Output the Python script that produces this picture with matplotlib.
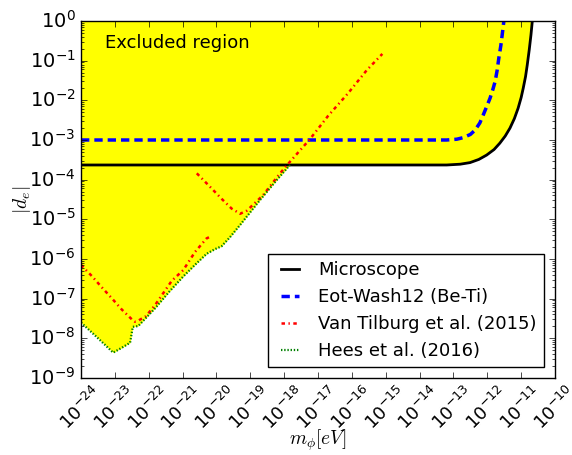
import numpy as np
import matplotlib
matplotlib.use('Agg')
import matplotlib.pyplot as plt

# values, as log10(m_phi [eV]) and log10(|d_e|)
micro_logm = [-24.0, -13.2, -12.8, -12.51, -12.25, -12.02, -11.80, -11.63, -11.47, -11.33,
              -11.20, -11.09, -11.00, -10.94, -10.87, -10.82, -10.76, -10.71, -10.67]
micro_logd = [-3.63, -3.63, -3.61, -3.57, -3.49, -3.38, -3.24, -3.08, -2.90, -2.70,
              -2.46, -2.20, -1.93, -1.70, -1.40, -1.11, -0.72, -0.35, 0.0]

eot_logm = [-24.0, -13.2, -12.9, -12.71, -12.50, -12.36, -12.22, -12.12, -12.01, -11.92,
            -11.84, -11.77, -11.71, -11.66, -11.60, -11.56, -11.51]
eot_logd = [-3.0, -3.0, -2.98, -2.94, -2.86, -2.75, -2.57, -2.37, -2.14, -1.95,
            -1.74, -1.53, -1.25, -0.94, -0.62, -0.35, 0.0]

vt1_logm = [-24.0, -23.68, -23.39, -23.09, -22.80, -22.50, -22.41, -22.30, -22.08, -21.81,
            -21.32, -20.98, -20.63, -20.29, -20.19]
vt1_logd = [-6.15, -6.43, -6.71, -6.99, -7.27, -7.52, -7.58, -7.55, -7.44, -7.16,
            -6.55, -6.28, -5.82, -5.48, -5.44]
vt2_logm = [-20.58, -20.20, -19.85, -19.55, -19.30, -19.10, -18.62, -18.12, -17.83, -17.24,
            -16.70, -16.11, -15.56, -15.10]
vt2_logd = [-3.84, -4.17, -4.48, -4.73, -4.86, -4.78, -4.39, -3.84, -3.55, -2.98,
            -2.39, -1.82, -1.24, -0.83]

hees_logm = [-24.0, -23.52, -23.05, -22.80, -22.55, -22.47, -22.31, -21.81, -21.40, -20.98,
             -20.60, -20.29, -20.04, -19.85, -19.60, -19.30, -18.71, -18.22, -17.83]
hees_logd = [-7.60, -7.98, -8.36, -8.24, -8.11, -7.71, -7.69, -7.24, -6.83, -6.44,
             -6.12, -5.87, -5.75, -5.68, -5.45, -5.14, -4.51, -4.01, -3.63]

xtick_exp = np.arange(-24, -9)
ytick_exp = np.arange(-9, 1)

plt.style.use('classic')
plt.rcParams['mathtext.fontset'] = 'cm'
plt.rcParams['axes.unicode_minus'] = False
plt.rcParams['lines.scale_dashes'] = False

fig = plt.figure(figsize=(5.72, 4.55), dpi=100)
ax = fig.add_axes([81/572., 1 - 378/455., 474/572., 357/455.])

# excluded region = above hees curve, then above microscope curve
micro_m = 10.0**np.array(micro_logm)
micro_d = 10.0**np.array(micro_logd)
hees_m = 10.0**np.array(hees_logm)
hees_d = 10.0**np.array(hees_logd)
keep = micro_m > hees_m[-1]
edge_m = np.concatenate([hees_m, micro_m[keep]])
edge_d = np.concatenate([hees_d, micro_d[keep]])
ax.fill_between(edge_m, edge_d, 1.0, color='yellow', lw=0)

ax.plot(micro_m, micro_d, 'k-', lw=2, label='Microscope')
ax.plot(10.0**np.array(eot_logm), 10.0**np.array(eot_logd), 'b--', lw=2.5,
        dashes=(6, 3.6), label='Eot-Wash12 (Be-Ti)')
ax.plot(10.0**np.array(vt1_logm), 10.0**np.array(vt1_logd), 'r-.', lw=1.8,
        dashes=(2.5, 2.5, 1, 2.5), label='Van Tilburg et al. (2015)')
ax.plot(10.0**np.array(vt2_logm), 10.0**np.array(vt2_logd), 'r-.', lw=1.8,
        dashes=(2.5, 2.5, 1, 2.5))
ax.plot(hees_m, hees_d, 'g:', lw=1.6, dashes=(1, 1.3), label='Hees et al. (2016)')

ax.set_xscale('log')
ax.set_yscale('log')
ax.set_xlim(1e-24, 1e-10)
ax.set_ylim(1e-9, 1e0)
ax.set_xticks(10.0**xtick_exp)
ax.set_yticks(10.0**ytick_exp)
ax.tick_params(axis='x', labelsize=13, labelrotation=45)
ax.tick_params(axis='y', labelsize=14)
ax.set_xlabel(r'$m_\phi[eV]$', fontsize=14, va='center')
ax.xaxis.set_label_coords(0.5, -0.174)
ax.set_ylabel(r'$|d_e|$', fontsize=14, va='center')
ax.yaxis.set_label_coords(-0.124, 0.5)

ax.text(0.051, 0.923, 'Excluded region', transform=ax.transAxes, fontsize=13, va='baseline')
ax.legend(loc='lower right', fontsize=13, handlelength=1.6, borderaxespad=0.6)

fig.savefig('out.png', dpi=100)
